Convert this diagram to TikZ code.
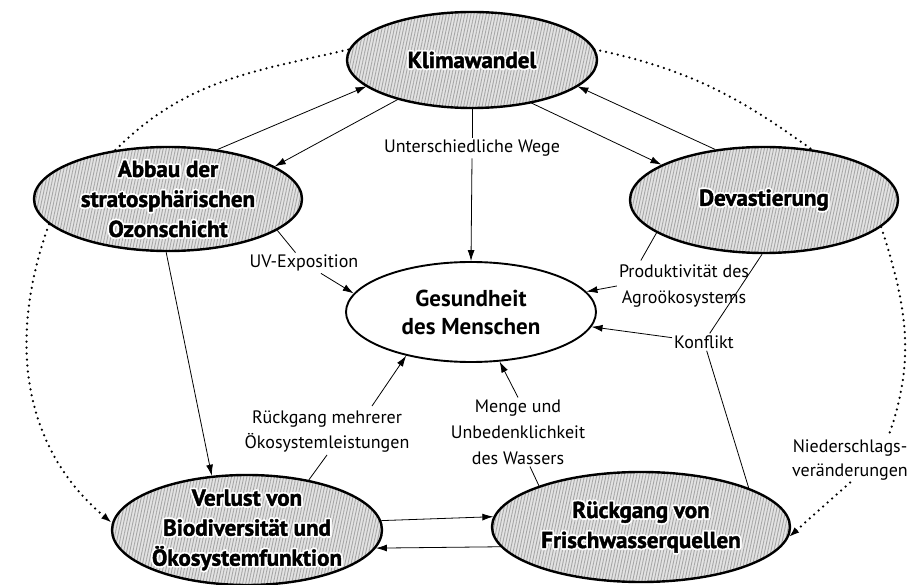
\documentclass[tikz,border=0pt]{standalone}
\usepackage{fontspec}
\setmainfont{PT Sans}
\newfontfamily\bubblefont{PT Sans}[BoldFeatures={FakeBold=1.8}]
\usetikzlibrary{shapes.geometric,arrows.meta,calc,patterns.meta}

\tikzset{
  bubble/.style={ellipse, draw=black, line width=2.4pt, inner sep=0pt,
    preaction={fill=gray!22},
    pattern={Lines[angle=78,distance=3pt,line width=0.9pt]}, pattern color=gray!70},
  centre/.style={ellipse, draw=black, line width=1.9pt, inner sep=0pt, fill=white,
    font=\bfseries\fontsize{23}{28}\selectfont, align=center},
  btext/.style={font=\bubblefont\bfseries\fontsize{23}{30}\selectfont, align=center, inner sep=0pt},
  lbl/.style={font=\fontsize{18}{26}\selectfont, align=center, inner sep=2pt},
  thin/.style={line width=0.8pt},
  tip/.style={-{Latex[length=11pt,width=7pt]}},
  arr/.style={thin, tip},
  dots/.style={line width=2.5pt, dash pattern=on 0pt off 6pt, line cap=round},
}

% textured ellipse with a haloed bold caption
\newcommand\bubblenode[5]{%
  \node[bubble, minimum width=#3, minimum height=#4] (#1) at (#2) {};
  \foreach \ang in {0,45,...,315}{\node[btext, text=white] at ($(#1)+(\ang:1.8pt)$) {#5};}
  \node[btext] at (#1) {#5};
}

\begin{document}
\begin{tikzpicture}[x=1pt,y=1pt]
\useasboundingbox (0,0) rectangle (919,-585);

% main bubbles
\bubblenode{kl}{472,-60}{250pt}{96pt}{Klimawandel}
\bubblenode{ab}{168,-199}{268pt}{104pt}{Abbau der\\stratosphärischen\\Ozonschicht}
\bubblenode{dev}{764,-200}{268pt}{106pt}{Devastierung}
\bubblenode{vl}{247,-530}{270pt}{110pt}{Verlust von\\Biodiversität und\\Ökosystemfunktion}
\bubblenode{rk}{641,-527}{298pt}{110pt}{Rückgang von\\Frischwasserquellen}
\node[centre, minimum width=250pt, minimum height=100pt] (ges) at (471,-312) {Gesundheit\\des Menschen};

% pathway labels
\node[lbl] (uw) at (472,-148) {Unterschiedliche Wege};
\node[lbl] (uv) at (304,-263) {UV-Exposition};
\node[lbl] (pa) at (684,-286) {Produktivität des\\Agroökosystems};
\node[lbl] (kf) at (704,-342) {Konflikt};
\node[lbl, font=\fontsize{18}{25}\selectfont] (rm) at (327,-432) {Rückgang mehrerer\\Ökosystemleistungen};
\node[lbl] (mw) at (518,-432) {Menge und\\Unbedenklichkeit\\des Wassers};
\node[lbl, font=\fontsize{18}{24}\selectfont] (ns) at (850,-460) {Niederschlags-\\veränderungen};

% links between the outer bubbles
\draw[arr] (ab.45) -- (kl.194);
\draw[arr] (kl.208) -- (ab.17);
\draw[arr] (kl.-36) -- (dev.161);
\draw[arr] (dev.134) -- (kl.-14);
\draw[arr] (ab.268) -- (vl.123);
\draw[arr] (vl.4) -- (rk.176);
\draw[arr] (rk.188) -- (vl.-8);

% pathways to human health
\draw[thin] (kl.south) -- (uw.north);
\draw[arr] (uw.south) -- (ges.north);
\draw[thin] (ab.-16) -- (uv);
\draw[arr] (uv) -- (ges.171);
\draw[thin] (dev.197) -- ($(pa.north west)+(24,2)$);
\draw[arr] (pa.west) -- (ges.10);
\draw[thin] (dev.268) -- (kf);
\draw[arr] (kf) -- (ges.-7);
\draw[thin] (kf) -- (rk.20);
\draw[thin] (vl.39) -- (rm.south);
\draw[arr] ($(rm.north)+(45,3)$) -- (ges.214);
\draw[thin] (rk.158) -- ($(mw.south)+(12,0)$);
\draw[arr] (mw.north) -- (ges.-60);

% dotted feedback loops
\draw[dots] (ab.137) to[out=45,in=193] (kl.175);
\draw[dots] (kl.5) to[out=-12,in=144] (dev.47);
\draw[dots, tip] (ab.192) to[out=250,in=140] (vl.177);
\draw[dots] (dev.-13) to[out=-72,in=70] ($(ns.north)+(38,0)$);
\draw[dots, tip] (ns.south) -- (rk.-4);
\end{tikzpicture}
\end{document}
